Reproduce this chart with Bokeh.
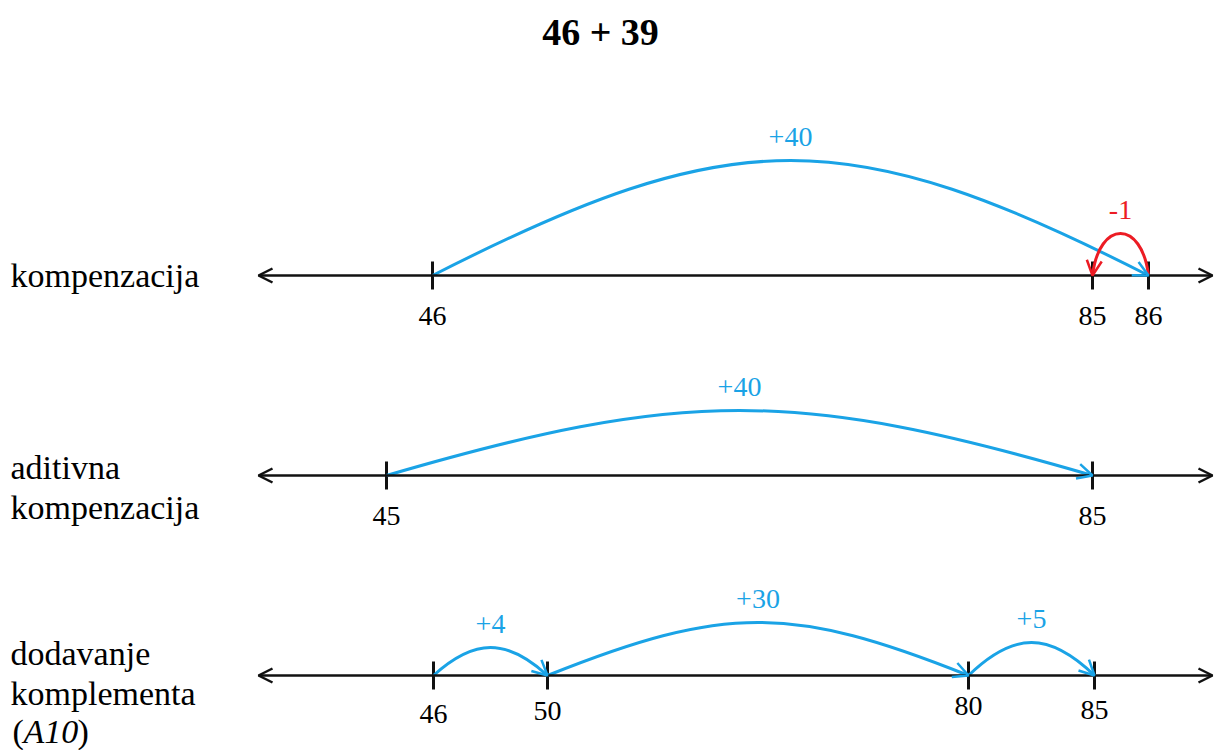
from bokeh.plotting import figure
from bokeh.models import Range1d, Arrow, OpenHead
from bokeh.core.properties import value
from bokeh.embed import file_html
from bokeh.resources import INLINE

# ---------------- data ----------------
title_text = "46 + 39"

row_label_lines = [["kompenzacija"], ["aditivna", "kompenzacija"], ["dodavanje", "komplementa"]]

# tick values on each number line and where they sit (schematic, not to scale)
row1_values = [46, 85, 86]
row1_pos = [432, 1092, 1148]
row2_values = [45, 85]
row2_pos = [386, 1092]
row3_values = [46, 50, 80, 85]
row3_pos = [433, 547, 968, 1094]

# jumps: (from value, to value, label)
row1_jumps_from = [46, 86]
row1_jumps_to = [86, 85]
row1_jumps_label = ["+40", "-1"]
row2_jumps_from = [45]
row2_jumps_to = [85]
row2_jumps_label = ["+40"]
row3_jumps_from = [46, 50, 80]
row3_jumps_to = [50, 80, 85]
row3_jumps_label = ["+4", "+30", "+5"]

# ---------------- layout / style ----------------
BLUE = "#1aa3e6"
RED = "#ec1c24"
BLACK = "#111111"
SERIF = "'Liberation Serif', 'Times New Roman', 'DejaVu Serif', serif"

W, H = 1216, 750
row_y = [275, 475, 675]
line_x0, line_x1 = 258, 1212
arc_heights = [[115, 42], [65], [28, 53, 33]]
arc_colors = [[BLUE, RED], [BLUE], [BLUE, BLUE, BLUE]]
arc_spread = [[0.42, 0.12], [0.42], [0.36, 0.42, 0.36]]
label_dy = [[40, 40, 40], [40, 40], [38, 35, 30, 34]]

p = figure(width=W, height=H, output_backend="svg", toolbar_location=None,
           x_range=Range1d(0, W), y_range=Range1d(H, 0),
           x_axis_type=None, y_axis_type=None, min_border=0)
p.grid.visible = False
p.outline_line_color = None
p.background_fill_color = "white"
p.border_fill_color = "white"

# title
p.text(x=[600], y=[31], text=[title_text], text_font=value(SERIF), text_font_style="bold",
       text_font_size="38px", text_align="center", text_baseline="middle", text_color="black")

# row labels
for y, lines in zip(row_y, row_label_lines):
    n = len(lines)
    if n == 1:
        ys = [y]
    elif n == 2 and y < 600:
        ys = [y - 8, y + 32]
    else:
        ys = [y - 22, y + 18]
    p.text(x=[10] * n, y=ys, text=lines, text_font=value(SERIF), text_font_size="34px",
           text_align="left", text_baseline="middle", text_color="black")
# "(A10)" with italic A10
p.text(x=[12], y=[731], text=["("], text_font=value(SERIF), text_font_size="34px",
       text_align="left", text_baseline="middle", text_color="black")
p.text(x=[23], y=[731], text=["A10"], text_font=value(SERIF), text_font_size="34px",
       text_font_style="italic", text_align="left", text_baseline="middle", text_color="black")
p.text(x=[77], y=[731], text=[")"], text_font=value(SERIF), text_font_size="34px",
       text_align="left", text_baseline="middle", text_color="black")

rows = [
    (row1_values, row1_pos, row1_jumps_from, row1_jumps_to, row1_jumps_label),
    (row2_values, row2_pos, row2_jumps_from, row2_jumps_to, row2_jumps_label),
    (row3_values, row3_pos, row3_jumps_from, row3_jumps_to, row3_jumps_label),
]

for ri, (vals, pos, jf, jt, jl) in enumerate(rows):
    y = row_y[ri]
    # number line with arrows both ends
    p.add_layout(Arrow(start=OpenHead(size=14, line_color=BLACK, line_width=2.5),
                       end=OpenHead(size=14, line_color=BLACK, line_width=2.5),
                       x_start=line_x0, y_start=y, x_end=line_x1, y_end=y,
                       line_color=BLACK, line_width=2.5))
    # ticks
    p.segment(x0=pos, y0=[y - 14] * len(pos), x1=pos, y1=[y + 14] * len(pos),
              line_color=BLACK, line_width=3)
    # tick labels
    p.text(x=pos, y=[y + d for d in label_dy[ri]], text=[str(v) for v in vals],
           text_font=value(SERIF), text_font_size="28px", text_align="center",
           text_baseline="middle", text_color="black")
    lookup = dict(zip(vals, pos))
    for k, (a, b, lab) in enumerate(zip(jf, jt, jl)):
        xa, xb = lookup[a], lookup[b]
        h = arc_heights[ri][k]
        f = arc_spread[ri][k]
        col = arc_colors[ri][k]
        cy = y - h / 0.75
        cx0 = xa + f * (xb - xa)
        cx1 = xb - f * (xb - xa)
        p.bezier(x0=[xa], y0=[y], x1=[xb], y1=[y], cx0=[cx0], cy0=[cy], cx1=[cx1], cy1=[cy],
                 line_color=col, line_width=3)
        # arrow head along the end tangent
        dx, dy = xb - cx1, y - cy
        L = (dx * dx + dy * dy) ** 0.5
        p.add_layout(Arrow(end=OpenHead(size=15, line_color=col, line_width=2.5),
                           x_start=xb - dx / L * 5, y_start=y - dy / L * 5,
                           x_end=xb, y_end=y, line_alpha=0))
        # jump label
        p.text(x=[(xa + xb) / 2], y=[y - h - 24], text=[lab], text_font=value(SERIF),
               text_font_size="28px", text_align="center", text_baseline="middle",
               text_color=col)

open("out.html", "w").write(file_html(p, INLINE))
